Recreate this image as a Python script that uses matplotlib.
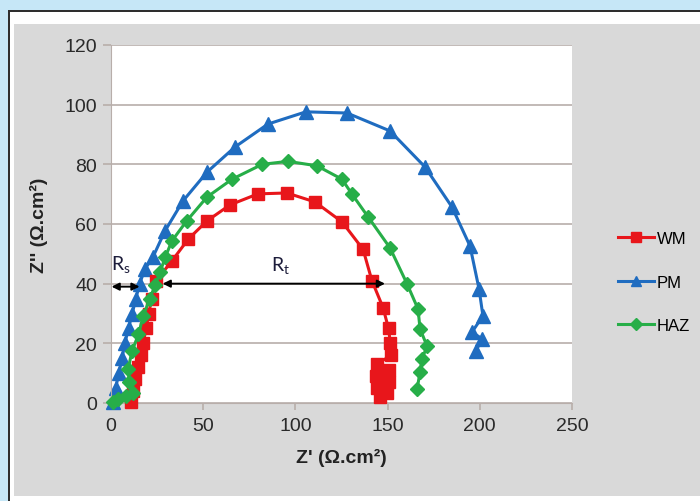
import matplotlib
matplotlib.use("Agg")
import matplotlib.pyplot as plt
from matplotlib.patches import Rectangle

# ---- data (Z' , Z'') ----
wm_x = [11, 12, 13, 14.5, 16, 17.5, 19, 20.5, 22, 24.5, 33, 42, 52, 64.5, 79.7, 95.4,
        110.6, 125.3, 136.7, 141.5, 147.5, 150.5, 151.5, 152, 144, 151, 143.5, 151,
        144.5, 149.5, 146]
wm_y = [0.5, 4, 8, 12, 16, 20, 25, 30, 35, 41, 47.6, 55, 61, 66.4, 70.1, 70.4,
        67.4, 60.7, 51.5, 41, 32, 25, 20, 16, 13, 11, 9, 7, 5, 3.5, 2]

pm_x = [1, 2.5, 4.3, 6, 7.5, 9.5, 11.5, 13.5, 15.5, 18.5, 22.8, 29.3, 39, 52.1, 67.2,
        85.1, 105.7, 128, 151.3, 170.3, 184.9, 194.7, 199.6, 201.7, 195.8, 201.2, 197.9]
pm_y = [0.5, 5, 10, 15, 20, 25, 30, 35, 40, 45, 49, 57.7, 67.7, 77.4, 85.8,
        93.5, 97.6, 97.2, 91.2, 79.1, 65.7, 52.6, 38.2, 29.2, 23.8, 21.5, 17.4]

haz_x = [1, 4, 8, 12, 10, 9.3, 11.4, 14.9, 17.4, 21, 24, 26.6, 29.5, 33, 41, 52, 65.6,
         82, 96, 111.7, 125.3, 130.7, 139.4, 151.3, 160.5, 166.5, 167.6, 171.4, 168.7,
         167.6, 166]
haz_y = [0.5, 1.5, 2.5, 3.5, 7, 11.4, 17.4, 23, 29, 35, 39.5, 43.9, 49, 54.3, 61, 69, 75,
         80, 81, 79.5, 75, 70, 62.4, 52, 40, 31.5, 24.8, 19.1, 14.8, 10.4, 4.7]

x_ticks = [0, 50, 100, 150, 200, 250]
y_ticks = [0, 20, 40, 60, 80, 100, 120]

# Rs / Rt annotation limits
rs_span = (0.3, 15.5)
rt_span = (28, 148.6)

W, H = 700, 502
plt.rcParams['font.family'] = ['Liberation Sans', 'DejaVu Sans']

fig = plt.figure(figsize=(W / 100, H / 100), dpi=100)
fig.patch.set_facecolor('#c6e7f7')


def px_rect(x0, y0, x1, y1, color):
    # pixel box (top-left origin) -> figure rectangle
    r = Rectangle((x0 / W, 1 - y1 / H), (x1 - x0) / W, (y1 - y0) / H,
                  transform=fig.transFigure, facecolor=color, edgecolor='none', zorder=-10)
    fig.add_artist(r)


px_rect(8, 11, 705, 510, '#2e2e2e')
px_rect(10, 13, 705, 510, 'white')
px_rect(14, 25, 705, 497, '#d9d9d9')

ax = fig.add_axes([111 / W, 1 - 404 / H, (572 - 111) / W, (404 - 46) / H])
ax.set_facecolor('white')

red = '#e8161b'
blue = '#1f6cc0'
green = '#27ae48'

ax.plot(wm_x, wm_y, color=red, lw=2.2, marker='s', ms=9, label='WM', clip_on=False, zorder=3)
ax.plot(pm_x, pm_y, color=blue, lw=2.2, marker='^', ms=10.5, label='PM', clip_on=False, zorder=2)
ax.plot(haz_x, haz_y, color=green, lw=2.2, marker='D', ms=7.5, label='HAZ', clip_on=False, zorder=4)

ax.set_xlim(0, 250)
ax.set_ylim(0, 120)
ax.set_xticks(x_ticks)
ax.set_yticks(y_ticks)
ax.yaxis.grid(True, color='#b8aeaa', lw=1.2)
ax.set_axisbelow(True)
for s in ['top', 'right']:
    ax.spines[s].set_visible(False)
ax.spines['left'].set_color('#b8aeaa')
ax.spines['bottom'].set_color('#b8aeaa')
ax.tick_params(axis='y', length=6, width=1.2, color='#b8aeaa', pad=4, labelsize=14, labelcolor='#2a2a2a')
ax.tick_params(axis='x', length=5, width=1.2, color='#b8aeaa', pad=5, labelsize=14, labelcolor='#2a2a2a')

ax.set_xlabel("Z' (\u03a9.cm\u00b2)", fontsize=14, fontweight='bold', color='#222222', labelpad=10)
ax.set_ylabel("Z'' (\u03a9.cm\u00b2)", fontsize=14, fontweight='bold', color='#222222', labelpad=12)

# Rs and Rt arrows
arrow = dict(arrowstyle='<|-|>', color='black', lw=1.4, mutation_scale=11, shrinkA=0, shrinkB=0)
ax.annotate('', xy=(rs_span[0], 39), xytext=(rs_span[1], 39), arrowprops=arrow,
            annotation_clip=False, zorder=6)
ax.annotate('', xy=(rt_span[0], 40), xytext=(rt_span[1], 40), arrowprops=arrow,
            annotation_clip=False, zorder=6)
ax.text(5.4, 46.8, r'$\mathregular{R_s}$', fontsize=14, color='#1c1c3a', ha='center', va='center',
        family='Lato')
ax.text(92, 46.5, r'$\mathregular{R_t}$', fontsize=14, color='#1c1c3a', ha='center', va='center',
        family='Lato')

fig.legend(loc='center left', bbox_to_anchor=(606 / W, 1 - 283 / H), frameon=False,
           fontsize=12, handlelength=2.2, handletextpad=0.15, labelspacing=1.7,
           markerscale=0.75, borderpad=0.2)

fig.savefig('out.png', dpi=100, facecolor=fig.get_facecolor())
